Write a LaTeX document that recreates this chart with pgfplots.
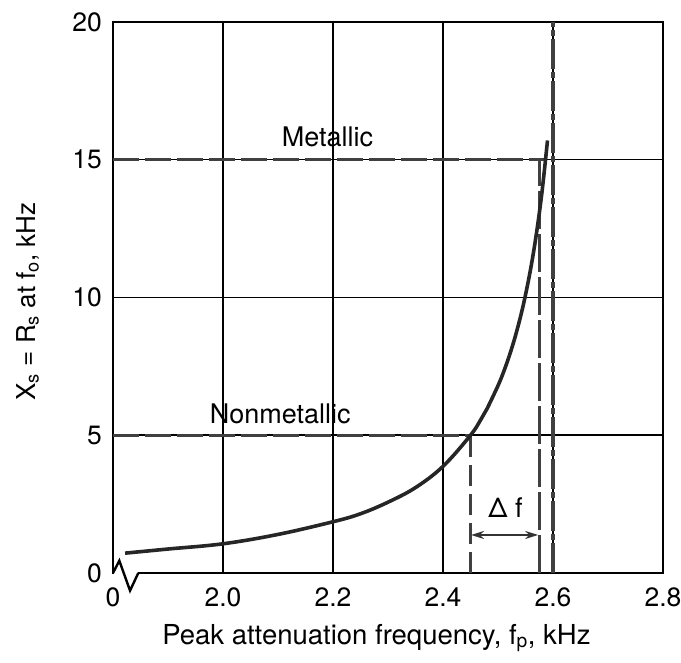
\documentclass[border=0pt]{standalone}
\usepackage{fontspec}
\setmainfont{TeX Gyre Heros}
\usepackage{pgfplots}
\pgfplotsset{compat=1.18}
\usetikzlibrary{arrows.meta}

% X_s as a function of the peak attenuation frequency
\pgfplotstableread{
fp      xs
1.822   0.72
1.90    0.87
2.00    1.06
2.10    1.40
2.20    1.86
2.25    2.15
2.30    2.57
2.35    3.10
2.40    3.87
2.45    5.00
2.47    5.61
2.48    5.96
2.50    6.80
2.51    7.29
2.52    7.85
2.53    8.49
2.54    9.23
2.549   10.00
2.56    11.11
2.57    12.34
2.58    13.83
2.590   15.70
}\curvedata

\begin{document}
\begin{tikzpicture}[font=\fontsize{27}{32}\selectfont]
\begin{axis}[
  at={(0,0)}, anchor=south west,
  scale only axis, width=550pt, height=551pt,
  xmin=1.8, xmax=2.8, ymin=0, ymax=20,
  xtick={1.8,2.0,2.2,2.4,2.6,2.8},
  xticklabels={0,2.0,2.2,2.4,2.6,2.8},
  ytick={0,5,10,15,20},
  yticklabels={0,5,10,15,20},
  grid=major,
  grid style={black, line width=1.5pt},
  axis line style={black, line width=2.6pt},
  major tick length=0pt,
  tick label style={font=\fontsize{26.5}{30}\selectfont, inner sep=0pt},
  xticklabel style={anchor=base, yshift=-34pt},
  yticklabel style={anchor=east, xshift=-11pt},
  xlabel={Peak attenuation frequency, f\textsubscript{p}, kHz},
  ylabel={X\textsubscript{s} = R\textsubscript{s} at f\textsubscript{o}, kHz},
  xlabel style={font=\fontsize{27.5}{32}\selectfont, at={(axis description cs:0.479,-0.129)}, anchor=base, inner sep=0pt},
  ylabel style={font=\fontsize{26}{30}\selectfont, at={(axis description cs:-0.1418,0.493)}, anchor=base, inner sep=0pt},
  clip=false,
]
% reference levels
\addplot[black!75, line width=3pt, dash pattern=on 26pt off 6pt]
  coordinates {(1.8,15) (2.583,15)};
\addplot[black!75, line width=3pt, dash pattern=on 26pt off 6pt]
  coordinates {(1.8,5) (2.45,5)};
% frequency markers
\addplot[black!75, line width=3pt, dash pattern=on 21pt off 8pt]
  coordinates {(2.45,0) (2.45,5)};
\addplot[black!75, line width=3.4pt, dash pattern=on 38pt off 5pt]
  coordinates {(2.575,0) (2.575,15)};
\addplot[black!75, line width=3.2pt, dash pattern=on 30pt off 3pt on 6pt off 3pt]
  coordinates {(2.6,0) (2.6,20)};
% main curve
\addplot[black!85, line width=3.6pt, smooth, tension=0.6] table[x=fp, y=xs] {\curvedata};
% delta f arrow
\addplot[black!80, line width=2pt, {Stealth[length=13pt,width=8pt]}-{Stealth[length=13pt,width=8pt]}]
  coordinates {(2.451,1.38) (2.573,1.38)};
\node[anchor=base, inner sep=0pt] at (axis cs:2.5136,2.03) {Δ f};
\node[anchor=base, inner sep=0pt] at (axis cs:2.19,15.47) {Metallic};
\node[anchor=base, inner sep=0pt] at (axis cs:2.104,5.44) {Nonmetallic};
% axis break on the frequency axis
\fill[white] ([xshift=1.4pt,yshift=-2.5pt]axis cs:1.8,0) rectangle ([yshift=2.5pt]axis cs:1.846,0);
\draw[black, line width=2.4pt, line join=miter]
  (axis cs:1.8,0) -- (axis cs:1.8115,0.446) -- (axis cs:1.831,-0.64) -- (axis cs:1.846,0);
\end{axis}
\pgfresetboundingbox
\path (-113pt,-90pt) rectangle (568pt,573pt);
\end{tikzpicture}
\end{document}
